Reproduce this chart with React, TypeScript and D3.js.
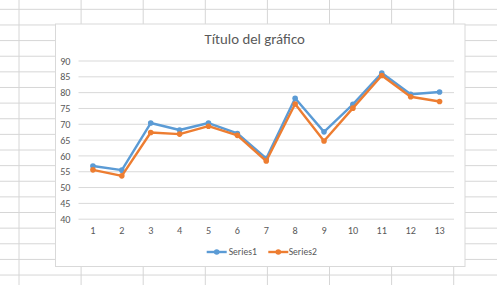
import React from "react";
import * as d3 from "d3";

const categories = [1, 2, 3, 4, 5, 6, 7, 8, 9, 10, 11, 12, 13];
const series1 = [56.8, 55.5, 70.4, 68.2, 70.4, 67.1, 59.2, 78.2, 67.6, 76.3, 86.2, 79.5, 80.2];
const series2 = [55.6, 53.7, 67.4, 66.9, 69.4, 66.5, 58.4, 76.4, 64.7, 75.1, 85.4, 78.7, 77.2];
const yTicks = [40, 45, 50, 55, 60, 65, 70, 75, 80, 85, 90];
const seriesNames = ["Series1", "Series2"];
const title = "Título del gráfico";

const W = 497;
const H = 285;
const FONT = "Carlito, Calibri, Lato, 'Open Sans', sans-serif";
const BLUE = "#5b9bd5";
const ORANGE = "#ed7d31";
const TXT = "#595959";

export default function App() {
  const x = d3.scaleBand<number>().domain(categories).range([78.5, 454]);
  const y = d3.scaleLinear().domain([40, 90]).range([219.2, 61]);
  const line = d3
    .line<number>()
    .x((_, i) => (x(categories[i]) as number) + x.bandwidth() / 2)
    .y((d) => y(d));

  const rows = d3.range(18).map((k) => 9.33 + 15.63 * k);
  const cols = d3.range(8).map((k) => 19 + 62.1 * k);

  const chart = { x0: 55.5, y0: 24, x1: 465, y1: 266.5 };
  const series = [
    { name: seriesNames[0], values: series1, color: BLUE },
    { name: seriesNames[1], values: series2, color: ORANGE },
  ];
  const legend = [
    { x: 206.7, tx: 228.7 },
    { x: 268.3, tx: 288.7 },
  ];

  return (
    <svg
      width={W}
      height={H}
      style={{ position: "absolute", left: 0, top: 0, background: "#fff" }}
    >
      <rect x={0} y={0} width={W} height={H} fill="#fff" />
      {rows.map((r, i) => (
        <line key={"r" + i} x1={0} x2={W} y1={r} y2={r} stroke="#d6d6d6" strokeWidth={1} />
      ))}
      {cols.map((c, i) => (
        <line key={"c" + i} x1={c} x2={c} y1={0} y2={H} stroke="#d6d6d6" strokeWidth={1} />
      ))}
      <rect
        x={chart.x0}
        y={chart.y0}
        width={chart.x1 - chart.x0}
        height={chart.y1 - chart.y0}
        fill="#fff"
        stroke="#d9d9d9"
        strokeWidth={1}
      />
      <text
        x={254.7}
        y={44}
        textAnchor="middle"
        fontFamily={FONT}
        fontSize={14.8}
        fill={TXT}
      >
        {title}
      </text>
      {yTicks.map((t) => (
        <g key={"y" + t}>
          <line x1={78.5} x2={454} y1={y(t)} y2={y(t)} stroke="#d9d9d9" strokeWidth={1} />
          <text
            x={70.5}
            y={y(t) + 3.6}
            textAnchor="end"
            fontFamily={FONT}
            fontSize={10.2}
            fill={TXT}
          >
            {t}
          </text>
        </g>
      ))}
      {categories.map((c) => (
        <text
          key={"x" + c}
          x={(x(c) as number) + x.bandwidth() / 2}
          y={234.2}
          textAnchor="middle"
          fontFamily={FONT}
          fontSize={10.2}
          fill={TXT}
        >
          {c}
        </text>
      ))}
      {series.map((s) => (
        <g key={s.name}>
          <path
            d={line(s.values) || ""}
            fill="none"
            stroke={s.color}
            strokeWidth={2.4}
            strokeLinejoin="round"
            strokeLinecap="round"
          />
          {s.values.map((v, i) => (
            <circle
              key={i}
              cx={(x(categories[i]) as number) + x.bandwidth() / 2}
              cy={y(v)}
              r={2.8}
              fill={s.color}
            />
          ))}
        </g>
      ))}
      {series.map((s, i) => (
        <g key={"lg" + s.name}>
          <line
            x1={legend[i].x}
            x2={legend[i].x + 20}
            y1={252}
            y2={252}
            stroke={s.color}
            strokeWidth={2.4}
          />
          <circle cx={legend[i].x + 10} cy={252} r={2.8} fill={s.color} />
          <text
            x={legend[i].tx}
            y={255.3}
            fontFamily={FONT}
            fontSize={9.6}
            fill={TXT}
          >
            {s.name}
          </text>
        </g>
      ))}
    </svg>
  );
}
